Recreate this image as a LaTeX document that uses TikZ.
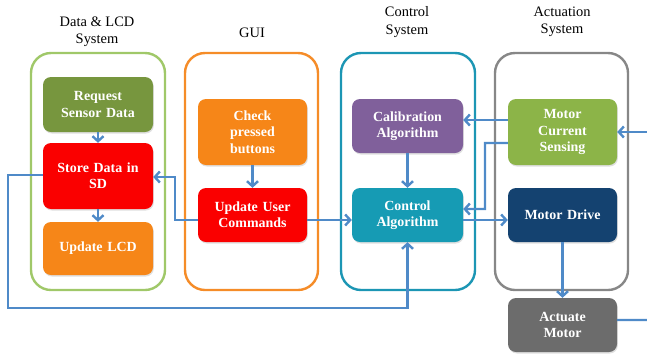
\documentclass[tikz,border=0pt]{standalone}
\usepackage{fontspec}
\setmainfont{Liberation Serif}
\usetikzlibrary{arrows.meta,shadows,calc}
\definecolor{cgreenc}{RGB}{160,200,105}
\definecolor{creq}{RGB}{119,150,62}
\definecolor{cmcs}{RGB}{140,180,72}
\definecolor{cred}{RGB}{250,0,0}
\definecolor{corange}{RGB}{246,134,24}
\definecolor{corangec}{RGB}{245,140,40}
\definecolor{ctealc}{RGB}{28,150,180}
\definecolor{cteal}{RGB}{22,155,180}
\definecolor{cpurple}{RGB}{128,96,155}
\definecolor{cnavy}{RGB}{20,66,112}
\definecolor{cgray}{RGB}{108,108,108}
\definecolor{cgrayc}{RGB}{135,135,135}
\definecolor{carrow}{RGB}{79,138,200}
\begin{document}
\begin{tikzpicture}[x=1bp,y=-1bp,
  box/.style={rounded corners=8bp, text=white, font=\fontsize{14}{16.5}\selectfont\bfseries,
    align=center, minimum width=110bp, text width=106bp, inner sep=0pt,
    drop shadow={opacity=0.25,shadow xshift=0.8bp,shadow yshift=-1.5bp}},
  cont/.style={rounded corners=20bp, line width=2.4bp, fill=white},
  ttl/.style={font=\fontsize{14.5}{17.5}\selectfont, align=center, text=black},
  arr/.style={draw=carrow, line width=2.4bp, -{Straight Barb[length=5bp,width=11bp]}},
  ln/.style={draw=carrow, line width=2.4bp}]
\useasboundingbox (0,0) rectangle (647,356);
% containers
\draw[cont, draw=cgreenc] (31,53) rectangle (165,290);
\draw[cont, draw=corangec] (185,53) rectangle (318,290);
\draw[cont, draw=ctealc] (341,53) rectangle (475,290);
\draw[cont, draw=cgrayc] (495,53) rectangle (628,290);
% titles
\node[ttl] (t1) at (97,32) {Data \& LCD\\System};
\node[ttl] (t2) at (252,33) {GUI};
\node[ttl] (t3) at (407,22) {Control\\System};
\node[ttl] (t4) at (562,22) {Actuation\\System};
% boxes
\node[box, fill=creq, minimum height=55bp] (req) at (98,104.5) {Request\\Sensor Data};
\node[box, fill=cred, minimum height=66bp] (store) at (98,176) {Store Data in\\SD};
\node[box, fill=corange, minimum height=53bp] (lcd) at (98,248.5) {Update LCD};
\node[box, fill=corange, minimum height=66bp, minimum width=109bp] (check) at (252.5,132) {Check\\pressed\\buttons};
\node[box, fill=cred, minimum height=54bp, minimum width=109bp] (upd) at (252.5,215) {Update User\\Commands};
\node[box, fill=cpurple, minimum height=54bp, minimum width=111bp] (calib) at (407.5,126) {Calibration\\Algorithm};
\node[box, fill=cteal, minimum height=54bp, minimum width=111bp] (ctrl) at (407.5,215) {Control\\Algorithm};
\node[box, fill=cmcs, minimum height=66bp, minimum width=109bp] (mcs) at (562.5,132) {Motor\\Current\\Sensing};
\node[box, fill=cnavy, minimum height=54bp, minimum width=109bp] (drive) at (562.5,215) {Motor Drive};
\node[box, fill=cgray, minimum height=54bp, minimum width=109bp] (act) at (562.5,325) {Actuate\\Motor};
\coordinate (inR) at (647,132);
\coordinate (outR) at (647,320);
% connectors
\draw[arr] (req) -- (store);
\draw[arr] (store) -- (lcd);
\draw[arr] (check) -- (upd);
\draw[arr] (calib) -- (ctrl);
\draw[arr] (drive) -- (act);
\draw[arr] ([yshift=-5bp]upd.west) -- ++(-23,0) |- ([yshift=-1bp]store.east);
\draw[arr] ([yshift=-5bp]upd.west -| upd.east) -- ([yshift=-5bp]ctrl.west);
\draw[arr] ([yshift=1bp]store.west) -- (8,175) -- (8,308) -| (ctrl.south);
\draw[arr] ([yshift=12bp]mcs.west) -- ([yshift=12bp]mcs.west -| calib.east);
\draw[arr] ([yshift=-11bp]mcs.west) -- (485,143) |- ([yshift=6bp]ctrl.east);
\draw[arr] ([yshift=-5bp]ctrl.east) -- ([yshift=-5bp]drive.west);
\draw[arr] (inR) -- (mcs.east);
\draw[ln] ([yshift=5bp]act.east) -- (outR);
\end{tikzpicture}
\end{document}
